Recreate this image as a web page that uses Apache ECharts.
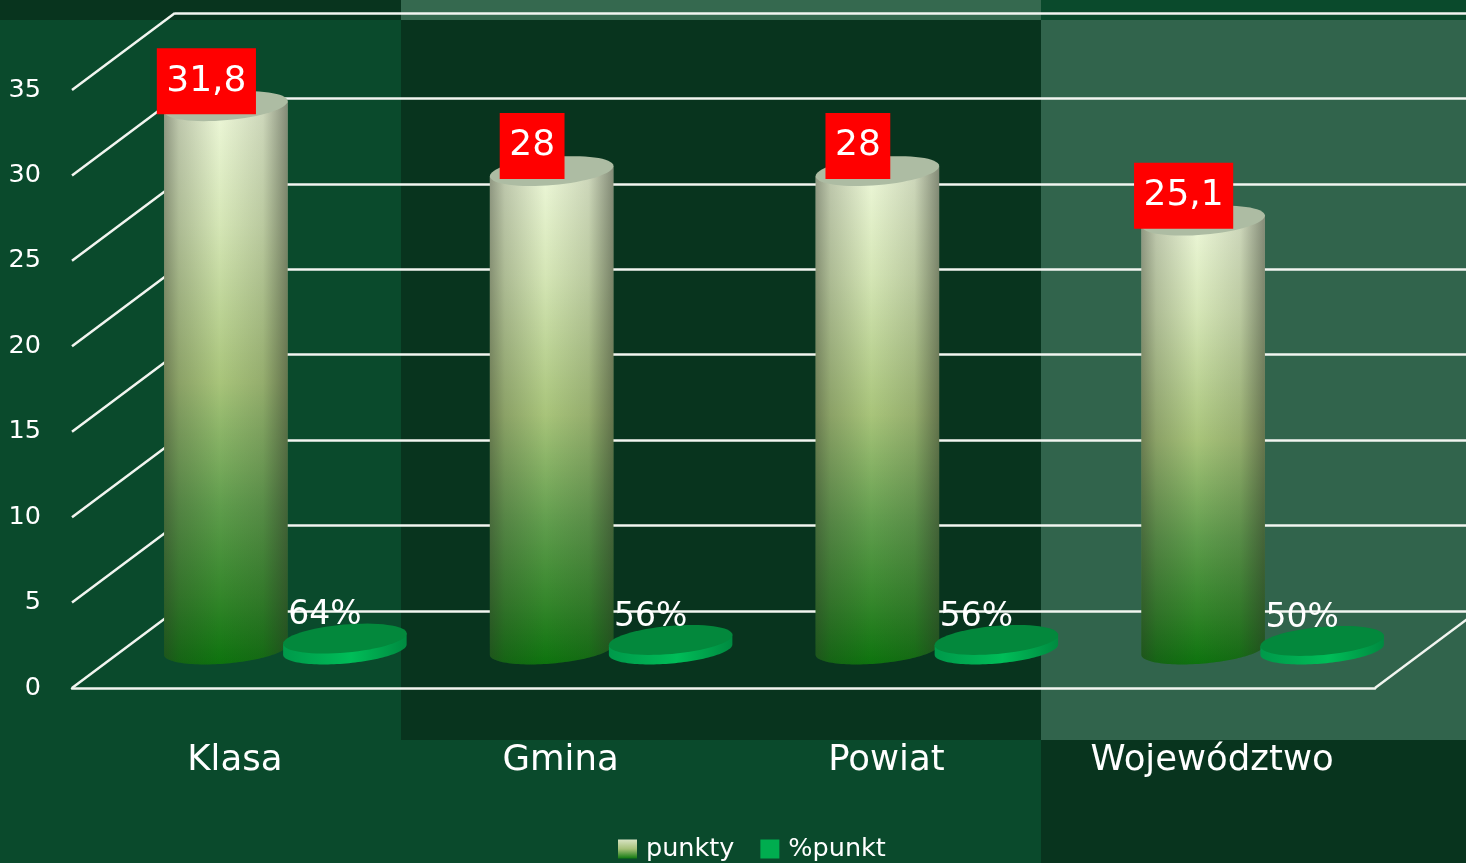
<!DOCTYPE html>
<html><head><meta charset="utf-8">
<style>html,body{margin:0;padding:0;background:#0a4a2c}#c{width:1466px;height:863px}</style>
<script src="https://cdn.jsdelivr.net/npm/echarts@6/dist/echarts.min.js"></script>
</head><body><div id="c"></div>
<script>
const categories = ['Klasa', 'Gmina', 'Powiat', 'Wojew\u00f3dztwo'];
const punkty = [31.8, 28, 28, 25.1];
const procentPunkt = [0.64, 0.56, 0.56, 0.5];
const procentLabels = ['64%', '56%', '56%', '50%'];
const punktyLabels = ['31,8', '28', '28', '25,1'];
const yTicks = [0, 5, 10, 15, 20, 25, 30, 35];

const FONT = '"DejaVu Sans", sans-serif';
const DX = 103, DY = 77;
const A = 62, B = 14, TH = -5 * Math.PI / 180, BARW = 119;
const LG = echarts.graphic.LinearGradient;

function pt(cx, cy, t) {
  const a = A * Math.cos(t), b = B * Math.sin(t);
  return [cx + a * Math.cos(TH) - b * Math.sin(TH), cy + a * Math.sin(TH) + b * Math.cos(TH)];
}
function arc(cx, cy, t0, t1) {
  const out = [], n = 64;
  for (let i = 0; i <= n; i++) out.push(pt(cx, cy, t0 + (t1 - t0) * i / n));
  return out;
}
const bodyGradV = new LG(0, 0, 0, 1, [
  {offset: 0, color: '#eef8da'}, {offset: 0.22, color: '#d5e6b6'}, {offset: 0.5, color: '#a8c47a'},
  {offset: 0.72, color: '#5f9d4c'}, {offset: 0.88, color: '#33862a'}, {offset: 1, color: '#0d730e'}]);
const bodyGradH = new LG(0, 0, 1, 0, [
  {offset: 0, color: 'rgba(45,50,40,0.48)'}, {offset: 0.12, color: 'rgba(45,50,40,0.24)'},
  {offset: 0.45, color: 'rgba(45,50,40,0)'}, {offset: 0.8, color: 'rgba(45,50,40,0.16)'},
  {offset: 1, color: 'rgba(45,50,40,0.55)'}]);
const discSide = new LG(0, 0, 1, 0, [
  {offset: 0, color: '#00994a'}, {offset: 0.55, color: '#00bd58'}, {offset: 1, color: '#008a40'}]);
const legendGrad = new LG(0, 0, 0, 1, [
  {offset: 0, color: '#d9e4c4'}, {offset: 0.5, color: '#a5c078'}, {offset: 1, color: '#107a10'}]);

function barItem(kind) {
  return function (params, api) {
    const i = api.value(0), v = api.value(1);
    const base = api.coord([i, 0]), top = api.coord([i, v]);
    const offs = kind === 'cyl' ? -BARW / 2 : BARW / 2;
    const cx = base[0] + DX / 2 + offs - 1;
    const by = base[1] - DY / 2, ty = top[1] - DY / 2;
    const body = [pt(cx, ty, Math.PI)].concat(arc(cx, by, Math.PI, 0), [pt(cx, ty, 0)]);
    const cap = arc(cx, ty, 0, 2 * Math.PI);
    const children = [];
    if (kind === 'cyl') {
      children.push({type: 'polygon', shape: {points: body}, style: {fill: bodyGradV}});
      children.push({type: 'polygon', shape: {points: body}, style: {fill: bodyGradH}});
      children.push({type: 'polygon', shape: {points: cap}, style: {fill: '#adbca3'}});
      children.push({type: 'text', z2: 50, x: cx - 19.5, y: ty - 25, style: {
        text: punktyLabels[i], fill: '#fff', font: '36px ' + FONT, align: 'center', verticalAlign: 'middle',
        backgroundColor: '#ff0000', padding: [12, 9.5, 11, 9.5], lineHeight: 43}});
    } else {
      children.push({type: 'polygon', shape: {points: body}, style: {fill: discSide}});
      children.push({type: 'polygon', shape: {points: cap}, style: {fill: '#03883c'}});
      children.push({type: 'text', z2: 50, x: cx - 20, y: ty - 23, style: {
        text: procentLabels[i], fill: '#fff', font: '33px ' + FONT, align: 'center', verticalAlign: 'middle'}});
    }
    return {type: 'group', children};
  };
}

const lineStyle = {stroke: '#f2f5f0', lineWidth: 2.5};
function wallItem(params, api) {
  const v = api.value(1), cs = params.coordSys;
  const y = api.coord([0, v])[1];
  const children = [{type: 'line', shape: {x1: cs.x, y1: y, x2: cs.x + DX, y2: y - DY}, style: lineStyle}];
  if (v === 0) children.push({type: 'line', shape: {x1: cs.x + cs.width, y1: y, x2: cs.x + cs.width + DX, y2: y - DY}, style: lineStyle});
  return {type: 'group', children};
}

const rect = (x, y, w, h, fill) => ({type: 'rect', z: -10, silent: true, shape: {x, y, width: w, height: h}, style: {fill}});

const chart = echarts.init(document.getElementById('c'), null, {renderer: 'canvas'});
chart.setOption({
  animation: false,
  backgroundColor: '#0a4a2c',
  graphic: {elements: [
    rect(0, 0, 401, 20, '#08341e'),
    rect(401, 0, 640, 20, '#35694f'),
    rect(401, 20, 640, 720, '#08341e'),
    rect(1041, 20, 425, 720, '#31644c'),
    rect(1041, 740, 425, 123, '#08341e')
  ]},
  legend: {
    left: 618, top: 836, padding: 0, itemWidth: 19, itemHeight: 19, itemGap: 26, icon: 'rect', selectedMode: false,
    textStyle: {color: '#fff', fontFamily: FONT, fontSize: 25.5, padding: [0, 0, 0, 4]},
    data: [{name: 'punkty', itemStyle: {color: legendGrad}}, {name: '%punkt', itemStyle: {color: '#00ad4f'}}]
  },
  grid: [
    {left: 72, top: 90, width: 1303, height: 598},
    {left: 175, top: 13, width: 1303, height: 598}
  ],
  xAxis: [
    {type: 'category', gridIndex: 0, data: categories,
      axisTick: {show: false}, axisLine: {lineStyle: {color: '#f2f5f0', width: 2.5}},
      axisLabel: {color: '#fff', fontFamily: FONT, fontSize: 35.5, margin: 55}},
    {type: 'category', gridIndex: 1, data: categories, show: false}
  ],
  yAxis: [
    {type: 'value', gridIndex: 0, min: 0, max: 35, interval: 5,
      axisLine: {show: false}, axisTick: {show: false}, splitLine: {show: false},
      axisLabel: {color: '#fff', fontFamily: FONT, fontSize: 25.5, margin: 31, padding: [2, 0, 0, 0]}},
    {type: 'value', gridIndex: 1, min: 0, max: 35, interval: 5,
      axisLine: {show: false}, axisTick: {show: false}, axisLabel: {show: false},
      splitLine: {show: true, lineStyle: {color: '#f2f5f0', width: 2.5}}}
  ],
  series: [
    {type: 'custom', name: 'walls', xAxisIndex: 0, yAxisIndex: 0, z: 1, clip: false, silent: true,
      renderItem: wallItem, data: yTicks.map(v => [0, v])},
    {type: 'custom', name: 'punkty', xAxisIndex: 0, yAxisIndex: 0, z: 5, clip: false, silent: true,
      itemStyle: {color: legendGrad}, renderItem: barItem('cyl'), data: punkty.map((v, i) => [i, v])},
    {type: 'custom', name: '%punkt', xAxisIndex: 0, yAxisIndex: 0, z: 5, clip: false, silent: true,
      itemStyle: {color: '#00ad4f'}, renderItem: barItem('disc'), data: procentPunkt.map((v, i) => [i, v])}
  ]
});
</script></body></html>
